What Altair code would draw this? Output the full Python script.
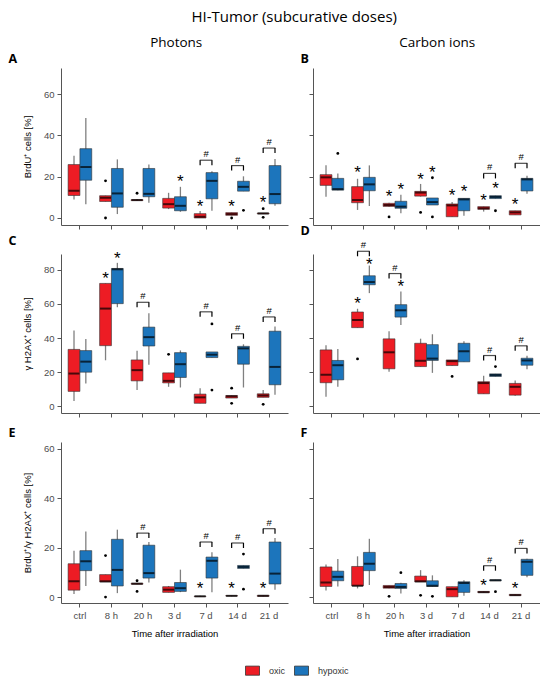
import altair as alt
import pandas as pd

TIMES = ["ctrl", "8 h", "20 h", "3 d", "7 d", "14 d", "21 d"]
GROUPS = ["oxic", "hypoxic"]
COLORS = ["#ED1C24", "#1C75BC"]

# box statistics per time point: [lower whisker, Q1, median, Q3, upper whisker]
# ---------- Panel A : BrdU+ , photons ----------
A_oxic = [[9.0, 10.9, 13.2, 25.9, 30.2], [8.0, 8.0, 9.8, 10.8, 10.8], [8.2, 8.4, 8.7, 8.9, 9.2],
          [4.3, 4.8, 6.7, 9.5, 12.2], [0.0, 0.0, 0.6, 2.1, 3.4], [1.3, 1.3, 1.9, 2.6, 2.6],
          [2.0, 2.0, 2.2, 2.4, 2.4]]
A_hypoxic = [[6.6, 18.3, 24.7, 33.6, 48.5], [1.9, 5.2, 11.9, 24.0, 28.4], [7.4, 10.3, 11.7, 24.0, 25.9],
             [3.0, 3.5, 5.9, 10.3, 15.1], [3.5, 9.3, 18.0, 22.0, 22.7], [13.0, 13.0, 15.1, 17.8, 20.2],
             [5.9, 6.9, 11.6, 25.4, 28.6]]
A_out_oxic = [[], [18.0, 0.0], [12.0], [], [], [0.0], [4.5, 0.3]]
A_out_hypoxic = [[], [], [], [], [], [3.7], []]
A_stars = [("3 d", "hypoxic", 18.8), ("7 d", "oxic", 6.7), ("14 d", "oxic", 6.7), ("21 d", "oxic", 8.5)]
A_brackets = [("7 d", 28.0), ("14 d", 25.4), ("21 d", 33.9)]

# ---------- Panel B : BrdU+ , carbon ions ----------
B_oxic = [[10.3, 15.8, 19.7, 21.0, 25.6], [3.9, 7.4, 8.7, 15.2, 19.0], [5.4, 5.6, 6.3, 7.1, 7.4],
          [10.4, 10.6, 12.3, 12.9, 16.5], [0.6, 0.6, 6.1, 6.8, 7.7], [3.1, 4.2, 4.7, 5.5, 5.5],
          [1.5, 1.5, 2.7, 3.5, 3.5]]
B_hypoxic = [[13.5, 13.5, 14.0, 19.2, 21.6], [5.8, 13.2, 16.3, 19.7, 25.5], [2.3, 4.7, 5.5, 8.1, 11.3],
             [6.3, 6.3, 7.7, 9.7, 9.7], [1.1, 3.5, 9.0, 9.5, 9.5], [9.4, 9.4, 10.2, 10.8, 10.8],
             [11.8, 13.1, 18.7, 19.2, 20.5]]
B_out_oxic = [[], [], [0.5], [2.7], [], [], []]
B_out_hypoxic = [[31.3], [], [], [19.5, 0.5], [], [3.5], []]
B_stars = [("8 h", "oxic", 23.5), ("20 h", "oxic", 11.6), ("20 h", "hypoxic", 15.2), ("3 d", "oxic", 20.0),
           ("3 d", "hypoxic", 23.5), ("7 d", "oxic", 12.3), ("7 d", "hypoxic", 13.9), ("14 d", "oxic", 9.8),
           ("14 d", "hypoxic", 15.5), ("21 d", "oxic", 7.9)]
B_brackets = [("14 d", 21.6), ("21 d", 26.5)]

# ---------- Panel C : gH2AX+ , photons ----------
C_oxic = [[2.9, 8.6, 19.1, 33.3, 44.4], [26.9, 35.5, 57.3, 72.1, 72.1], [9.4, 14.8, 21.1, 27.1, 32.5],
          [11.3, 13.6, 14.8, 19.5, 19.5], [1.6, 1.6, 5.1, 7.0, 10.5], [4.7, 4.7, 5.7, 6.2, 6.2],
          [5.1, 5.1, 6.2, 7.2, 9.4]]
C_hypoxic = [[13.3, 19.9, 26.1, 32.6, 39.4], [58.1, 60.2, 80.4, 80.9, 84.2], [24.2, 35.3, 40.5, 46.4, 54.6],
             [10.9, 16.8, 24.6, 31.4, 32.7], [28.5, 28.5, 30.2, 31.8, 31.8], [10.9, 24.6, 33.9, 35.1, 36.3],
             [6.6, 12.5, 23.0, 44.0, 46.8]]
C_out_oxic = [[], [], [], [30.4], [], [10.5, 1.6], [1.0]]
C_out_hypoxic = [[], [], [], [], [48.3, 9.4], [], []]
C_stars = [("8 h", "oxic", 76.6), ("8 h", "hypoxic", 88.1)]
C_brackets = [("20 h", 61.0), ("7 d", 55.4), ("14 d", 42.5), ("21 d", 52.4)]

# ---------- Panel D : gH2AX+ , carbon ions ----------
D_oxic = [[5.5, 13.7, 18.4, 33.0, 35.7], [46.1, 46.1, 50.6, 55.3, 57.2], [20.1, 21.9, 31.6, 39.5, 44.0],
          [23.2, 23.2, 26.6, 36.9, 39.6], [23.8, 23.8, 26.4, 27.1, 27.1], [7.2, 7.2, 13.5, 14.3, 17.8],
          [6.1, 6.4, 11.3, 13.3, 15.0]]
D_hypoxic = [[11.3, 15.4, 24.0, 26.8, 33.6], [66.4, 71.3, 72.9, 76.6, 82.6], [47.7, 52.3, 56.3, 59.6, 67.4],
             [19.5, 26.8, 27.9, 36.1, 42.2], [26.0, 26.0, 32.2, 36.9, 38.1], [17.4, 17.4, 18.2, 18.9, 18.9],
             [21.7, 24.0, 26.8, 28.1, 29.5]]
D_out_oxic = [[], [27.7], [], [], [17.4], [], []]
D_out_hypoxic = [[], [], [], [], [], [23.2], []]
D_stars = [("8 h", "oxic", 61.5), ("8 h", "hypoxic", 84.6), ("20 h", "hypoxic", 71.7)]
D_brackets = [("8 h", 91.0), ("20 h", 77.9), ("14 d", 29.7), ("21 d", 35.4)]

# ---------- Panel E : BrdU+/gH2AX+ , photons ----------
E_oxic = [[1.2, 2.8, 6.4, 13.5, 18.8], [6.1, 6.1, 6.4, 9.1, 9.1], [5.2, 5.2, 5.4, 5.6, 5.6],
          [1.9, 1.9, 3.0, 4.2, 4.5], [0.1, 0.2, 0.3, 0.4, 0.5], [0.3, 0.4, 0.5, 0.6, 0.6],
          [0.2, 0.3, 0.5, 0.7, 0.8]]
E_hypoxic = [[4.5, 10.7, 14.5, 18.8, 26.6], [1.6, 4.5, 11.0, 23.4, 27.3], [5.9, 7.7, 9.7, 21.0, 22.3],
             [2.0, 2.3, 3.6, 5.9, 11.1], [2.0, 7.7, 14.7, 16.2, 18.2], [11.6, 11.6, 12.2, 12.8, 12.8],
             [3.0, 5.3, 9.5, 22.3, 23.9]]
E_out_oxic = [[], [16.8, 0.0], [6.6, 2.3], [], [], [], []]
E_out_hypoxic = [[], [], [], [], [], [17.4, 3.2], []]
E_stars = [("7 d", "oxic", 4.3), ("14 d", "oxic", 4.3), ("21 d", "oxic", 4.3)]
E_brackets = [("20 h", 25.9), ("7 d", 22.3), ("14 d", 21.9), ("21 d", 27.7)]

# ---------- Panel F : BrdU+/gH2AX+ , carbon ions ----------
F_oxic = [[2.7, 4.3, 5.9, 12.2, 13.2], [3.5, 4.5, 4.6, 12.4, 16.5], [3.6, 3.6, 4.1, 4.7, 4.7],
          [6.1, 6.1, 6.4, 8.5, 10.9], [0.1, 0.1, 3.2, 4.2, 4.2], [1.8, 1.8, 2.0, 2.3, 2.3],
          [0.6, 0.6, 0.8, 1.1, 1.1]]
F_hypoxic = [[4.3, 6.6, 8.2, 10.5, 15.4], [4.9, 10.7, 13.5, 18.1, 23.6], [1.4, 3.5, 4.1, 5.5, 5.8],
             [4.3, 4.3, 4.6, 6.6, 8.8], [0.5, 1.9, 5.7, 6.2, 6.8], [6.6, 6.6, 6.8, 7.0, 7.0],
             [8.0, 8.8, 14.3, 15.3, 15.5]]
F_out_oxic = [[], [], [0.3], [0.7], [], [], []]
F_out_hypoxic = [[], [], [9.9], [0.3], [], [2.2], []]
F_stars = [("14 d", "oxic", 5.8), ("21 d", "oxic", 4.6)]
F_brackets = [("14 d", 12.7), ("21 d", 19.7)]

ROW_DOMAINS = [[-3.4, 72.7], [-4.1, 89.4], [-2.4, 62.8]]
ROW_TICKS = [[0, 20, 40, 60], [0, 20, 40, 60, 80], [0, 20, 40, 60]]
ROW_HEIGHTS = [157, 159, 161]
Y_TITLES = ["BrdU\u207a cells [%]", "\u03b3 H2AX\u207a cells [%]", "BrdU\u207a/\u03b3 H2AX\u207a cells [%]"]
PANEL_W = 227


def build_panel(ox, hy, out_ox, out_hy, stars, brackets, row, letter, left, bottom):
    domain = ROW_DOMAINS[row]
    height = ROW_HEIGHTS[row]
    leg = 5.0 * (domain[1] - domain[0]) / height

    boxes = pd.DataFrame(
        [dict(time=t, group=g, lo=s[0], q1=s[1], med=s[2], q3=s[3], hi=s[4])
         for g, stats in (("oxic", ox), ("hypoxic", hy)) for t, s in zip(TIMES, stats)])
    outs = pd.DataFrame(
        [dict(time=t, group=g, v=v)
         for g, ol in (("oxic", out_ox), ("hypoxic", out_hy)) for t, vals in zip(TIMES, ol) for v in vals],
        columns=["time", "group", "v"])
    sdf = pd.DataFrame([dict(time=t, group=g, y=y) for t, g, y in stars], columns=["time", "group", "y"])
    bdf = pd.DataFrame([dict(time=t, y=y) for t, y in brackets], columns=["time", "y"])
    ldf = pd.DataFrame([dict(time=t, group=g, y=y) for t, y in brackets for g in GROUPS],
                       columns=["time", "group", "y"])

    def X():
        return alt.X("time:N", sort=TIMES,
                     scale=alt.Scale(domain=TIMES, paddingInner=0.25, paddingOuter=0.225),
                     axis=alt.Axis(labels=bottom, labelAngle=0,
                                   title="Time after irradiation" if bottom else None))

    def XO():
        return alt.XOffset("group:N", sort=GROUPS, scale=alt.Scale(domain=GROUPS))

    def Y(field):
        return alt.Y(f"{field}:Q", scale=alt.Scale(domain=domain, nice=False, zero=False),
                     axis=alt.Axis(values=ROW_TICKS[row], labels=left,
                                   title=Y_TITLES[row] if left else None))

    whisk = alt.Chart(boxes).mark_rule(color="#808080", strokeWidth=1.3).encode(
        x=X(), xOffset=XO(), y=Y("lo"), y2="hi")
    box = alt.Chart(boxes).mark_bar(stroke="#333333", strokeWidth=0.6).encode(
        x=X(), xOffset=XO(), y=Y("q1"), y2="q3",
        color=alt.Color("group:N", sort=GROUPS,
                        scale=alt.Scale(domain=GROUPS, range=COLORS),
                        legend=alt.Legend(title=None, orient="none", direction="horizontal",
                                          legendX=184, legendY=595)))
    med = alt.Chart(boxes).mark_tick(color="black", thickness=2, size=11).encode(
        x=X(), xOffset=XO(), y=Y("med"))
    outl = alt.Chart(outs).mark_circle(color="black", size=8, opacity=1).encode(
        x=X(), xOffset=XO(), y=Y("v"))
    legs = alt.Chart(ldf).transform_calculate(y2=f"datum.y - {leg:.4f}").mark_rule(
        color="black", strokeWidth=1.2).encode(x=X(), xOffset=XO(), y=Y("y"), y2="y2:Q")
    btick = alt.Chart(bdf).mark_tick(color="black", thickness=1.2, size=12.5).encode(x=X(), y=Y("y"))
    hashes = alt.Chart(bdf).mark_text(text="#", fontSize=9.5, baseline="bottom", dy=-1, color="black",
                                      font="Liberation Sans").encode(x=X(), y=Y("y"))
    st = alt.Chart(sdf).mark_text(text="*", fontSize=17, baseline="middle", dy=3, color="black",
                                  font="Liberation Sans").encode(x=X(), xOffset=XO(), y=Y("y"))

    return alt.layer(whisk, box, med, outl, legs, btick, hashes, st).properties(
        width=PANEL_W, height=height,
        title=alt.TitleParams(letter, anchor="start", fontSize=12.5, fontWeight="bold",
                              font="Open Sans", offset=3, dx=-14 if left else -8))


pA = build_panel(A_oxic, A_hypoxic, A_out_oxic, A_out_hypoxic, A_stars, A_brackets, 0, "A", True, False)
pB = build_panel(B_oxic, B_hypoxic, B_out_oxic, B_out_hypoxic, B_stars, B_brackets, 0, "B", False, False)
pC = build_panel(C_oxic, C_hypoxic, C_out_oxic, C_out_hypoxic, C_stars, C_brackets, 1, "C", True, False)
pD = build_panel(D_oxic, D_hypoxic, D_out_oxic, D_out_hypoxic, D_stars, D_brackets, 1, "D", False, False)
pE = build_panel(E_oxic, E_hypoxic, E_out_oxic, E_out_hypoxic, E_stars, E_brackets, 2, "E", True, True)
pF = build_panel(F_oxic, F_hypoxic, F_out_oxic, F_out_hypoxic, F_stars, F_brackets, 2, "F", False, True)

left_col = alt.vconcat(pA, pC, pE, spacing=29, bounds="flush",
                       title=alt.TitleParams("Photons", anchor="middle", fontSize=13.5,
                                             font="Open Sans", fontWeight="normal", offset=3, dx=28))
right_col = alt.vconcat(pB, pD, pF, spacing=29, bounds="flush",
                        title=alt.TitleParams("Carbon ions", anchor="middle", fontSize=13.5,
                                              font="Open Sans", fontWeight="normal", offset=3, dx=17))

chart = alt.hconcat(left_col, right_col, spacing=12,
                    title=alt.TitleParams("HI-Tumor (subcurative doses)", anchor="middle",
                                          fontSize=15, font="Open Sans", fontWeight="normal",
                                          offset=11, dx=20)).properties(
    padding={"left": 0, "top": 2, "right": 0, "bottom": 0}
).configure_view(stroke=None).configure_axis(
    grid=False, domainColor="#555555", domainWidth=1, tickColor="#555555", tickSize=4,
    labelColor="#4D4D4D", labelFont="Liberation Sans", labelFontSize=9.5, labelPadding=3,
    titleFont="Liberation Sans", titleFontSize=9.5, titleFontWeight="normal", titleColor="black",
    titlePadding=11
).configure_axisX(titlePadding=9).configure_legend(
    symbolType="M-1,-0.65L1,-0.65L1,0.65L-1,0.65Z", symbolSize=196, symbolStrokeColor="#333333",
    symbolStrokeWidth=0.8, labelFont="Liberation Sans", labelFontSize=9, labelColor="#333333",
    columnPadding=6, labelOffset=9
).configure_title(color="black")

chart.save("out.html", embed_options={"renderer": "svg", "actions": False})
